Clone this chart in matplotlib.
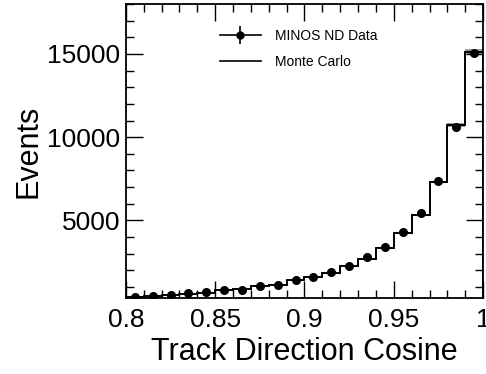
import numpy as np
import matplotlib.pyplot as plt
from matplotlib.lines import Line2D
from matplotlib.legend_handler import HandlerTuple
from matplotlib.ticker import MultipleLocator

plt.rcParams.update({
    "font.family": ["Liberation Sans", "DejaVu Sans"],
    "font.size": 19,
})

# track direction cosine, 20 bins of 0.01 between 0.8 and 1.0
bin_edges = np.round(np.linspace(0.8, 1.0, 21), 3)
data_counts = [383, 467, 503, 605, 685, 786, 826, 1045, 1087, 1430,
               1610, 1870, 2250, 2773, 3375, 4278, 5463, 7390, 10600, 15040]
mc_counts = [383, 460, 495, 590, 648, 786, 865, 1040, 1130, 1390,
             1590, 1830, 2250, 2690, 3355, 4260, 5300, 7310, 10740, 15130]

centers = 0.5 * (bin_edges[:-1] + bin_edges[1:])
data_err = np.sqrt(data_counts)

fig = plt.figure(figsize=(4.86, 3.74), dpi=100)
ax = fig.add_axes([0.259, 0.203, 0.735, 0.786])

# MC with a thin systematic band
mc = np.array(mc_counts, dtype=float)
band = 0.01 * mc
ax.stairs(mc + band, bin_edges, baseline=mc - band, fill=True,
          color="#9a9a9a", lw=0)
ax.stairs(mc, bin_edges, color="black", lw=1.4)
ax.errorbar(centers, data_counts, yerr=data_err, fmt="o", color="black",
            ms=5.5, elinewidth=1.2, capsize=0)

ax.set_xlim(0.8, 1.0)
ax.set_ylim(320, 18000)
ax.set_xticks([0.8, 0.85, 0.9, 0.95, 1.0])
ax.set_xticklabels(["0.8", "0.85", "0.9", "0.95", "1"])
ax.set_yticks([5000, 10000, 15000])
ax.xaxis.set_minor_locator(MultipleLocator(0.01))
ax.yaxis.set_minor_locator(MultipleLocator(1000))
ax.tick_params(which="both", direction="in", top=True, right=True,
               labelsize=19, width=1)
ax.tick_params(which="major", length=12)
ax.tick_params(which="minor", length=6)
ax.tick_params(axis="x", which="major", pad=7)
ax.tick_params(axis="y", which="major", pad=4)
for s in ax.spines.values():
    s.set_linewidth(1.3)

ax.set_xlabel("Track Direction Cosine", fontsize=22, labelpad=4)
ax.set_ylabel("Events", fontsize=22, labelpad=3)

# ROOT-style legend entries: data with horizontal line + vertical error bar
data_handle = (Line2D([], [], color="black", lw=1.2, marker="o", ms=5),
               Line2D([], [], color="black", ls="none", marker="|", ms=13,
                      mew=1.2))
mc_handle = Line2D([], [], color="black", lw=1.2)
ax.legend([data_handle, mc_handle], ["MINOS ND Data", "Monte Carlo"],
          handler_map={tuple: HandlerTuple(ndivide=1)},
          loc="upper left", bbox_to_anchor=(0.235, 0.948),
          frameon=False, fontsize=10, handlelength=3.0, handletextpad=1.0,
          labelspacing=0.85, borderpad=0.2)

fig.savefig("out.png", dpi=100)
